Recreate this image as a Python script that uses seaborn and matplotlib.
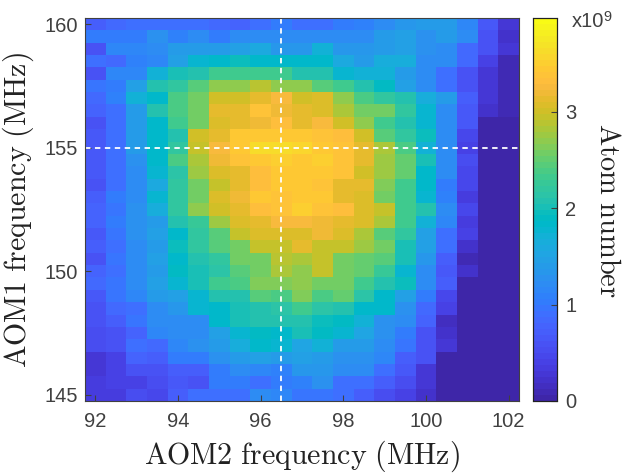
import numpy as np
import pandas as pd
import seaborn as sns
import matplotlib
matplotlib.use("Agg")
import matplotlib.pyplot as plt
from matplotlib.colors import ListedColormap

aom2 = [92 + 0.5 * i for i in range(21)]
aom1 = [160 - 0.5 * i for i in range(31)]

# atom number /1e9, rows go top (160 MHz) to bottom (145 MHz)
atoms = [
    [.70, .85, .92, .92, .92, .92, .85, .78, .92, 1.0, .92, .92, 1.05, 1.08, 1.18, 1.32, 1.38, 1.42, 1.12, .68, .25],
    [1.02, 1.0, 1.02, 1.28, 1.08, 1.22, 1.02, 1.22, 1.18, 1.18, 1.18, 1.18, 1.18, 1.22, 1.38, 1.48, 1.28, 1.42, 1.18, .62, .20],
    [.62, 1.12, 1.12, 1.22, 1.38, 1.38, 1.42, 1.48, 1.58, 1.32, 1.32, 1.68, 1.32, 1.32, 1.38, 1.48, 1.28, 1.18, .85, .58, .25],
    [.90, .82, 1.08, 1.12, 1.48, 1.78, 1.85, 1.95, 1.85, 1.85, 1.85, 1.85, 1.60, 1.38, 1.62, 1.62, 1.22, 1.18, .82, .42, .10],
    [.62, 1.12, 1.12, 1.70, 2.0, 2.10, 2.30, 2.30, 2.30, 2.35, 2.10, 2.10, 1.75, 1.70, 1.70, 1.42, 1.18, .92, .62, .30, .10],
    [.95, 1.05, 1.48, 2.10, 2.20, 2.45, 2.70, 2.70, 2.90, 2.70, 2.70, 2.45, 2.30, 2.05, 1.90, 1.48, 1.22, .92, .58, .25, .08],
    [.82, 1.10, 1.68, 1.80, 2.40, 2.60, 3.0, 3.0, 3.12, 3.25, 3.0, 3.05, 2.70, 2.40, 2.20, 2.05, 1.65, 1.38, .72, .25, .08],
    [.78, .88, 1.38, 2.05, 2.40, 2.60, 3.15, 3.15, 3.38, 3.20, 3.15, 3.05, 2.85, 2.55, 2.55, 2.20, 1.75, 1.18, .68, .20, .08],
    [.60, .88, 1.38, 1.85, 2.30, 2.55, 3.08, 3.15, 3.22, 3.30, 3.15, 3.25, 3.0, 2.70, 2.30, 2.10, 1.75, 1.18, .68, .05, .05],
    [.68, .88, 1.38, 1.80, 2.10, 3.0, 3.12, 3.45, 3.42, 3.42, 3.45, 3.35, 3.30, 3.0, 2.45, 2.20, 1.95, 1.22, .45, .05, .05],
    [.68, .88, 1.38, 1.80, 2.20, 2.95, 3.25, 3.45, 3.60, 3.60, 3.55, 3.45, 3.35, 3.15, 2.85, 2.40, 1.70, 1.18, .40, .05, .05],
    [.68, .88, 1.28, 1.85, 2.40, 2.80, 3.20, 3.38, 3.42, 3.48, 3.45, 3.50, 3.35, 3.15, 2.75, 2.50, 2.0, 1.22, .52, .05, .05],
    [.68, .92, 1.22, 1.75, 2.15, 2.75, 3.05, 3.15, 3.30, 3.45, 3.45, 3.42, 3.35, 3.0, 2.75, 2.50, 1.85, 1.22, .45, .05, .05],
    [.58, .88, 1.18, 1.60, 2.20, 2.60, 2.95, 3.12, 3.30, 3.45, 3.45, 3.35, 3.15, 3.12, 2.65, 2.30, 1.85, 1.02, .45, .05, .05],
    [.72, 1.02, 1.22, 1.75, 2.20, 2.60, 3.05, 3.20, 3.45, 3.38, 3.45, 3.45, 3.15, 3.05, 2.55, 2.35, 1.75, 1.08, .35, .05, .05],
    [.78, .98, 1.28, 1.65, 2.20, 2.70, 3.0, 3.15, 3.30, 3.38, 3.50, 3.38, 3.30, 3.08, 2.95, 2.35, 2.05, 1.18, .48, .05, .05],
    [.78, 1.02, 1.28, 1.40, 2.05, 2.25, 2.75, 3.05, 3.15, 3.25, 3.25, 3.20, 3.15, 3.05, 2.80, 2.35, 1.70, 1.12, .35, .05, .05],
    [.68, .98, 1.28, 1.48, 1.80, 2.20, 2.45, 2.95, 3.05, 3.10, 3.05, 3.20, 3.08, 2.80, 2.45, 2.20, 1.48, .88, .42, .05, .05],
    [.72, .88, 1.22, 1.38, 1.95, 2.20, 2.45, 2.55, 2.95, 2.95, 3.12, 2.95, 2.95, 2.75, 2.60, 2.0, 1.48, .88, .20, .05, .05],
    [.62, .98, 1.18, 1.48, 1.85, 2.10, 2.20, 2.60, 2.60, 2.90, 2.80, 2.95, 2.55, 2.50, 2.45, 2.0, 1.32, .72, .10, .05, .05],
    [.78, .92, 1.18, 1.38, 1.90, 2.0, 2.15, 2.45, 2.60, 2.85, 2.70, 2.95, 2.55, 2.50, 2.25, 1.75, 1.22, .68, .20, .05, .05],
    [.82, .98, 1.18, 1.48, 1.75, 2.0, 2.30, 2.40, 2.65, 2.65, 2.70, 2.60, 2.55, 2.35, 2.05, 1.95, 1.22, .72, .05, .05, .05],
    [.68, .98, 1.12, 1.38, 1.48, 1.75, 2.10, 2.10, 2.45, 2.40, 2.65, 2.40, 2.50, 2.15, 1.85, 1.48, 1.02, .48, .05, .05, .05],
    [.62, .82, .88, 1.22, 1.32, 1.75, 1.80, 2.0, 2.05, 2.15, 2.35, 2.15, 2.05, 1.80, 1.80, 1.28, .82, .38, .05, .05, .05],
    [.62, .72, .98, 1.18, 1.22, 1.22, 1.80, 2.0, 2.05, 2.05, 2.05, 1.95, 1.90, 1.70, 1.28, 1.22, .78, .15, .05, .05, .05],
    [.52, .62, .78, 1.12, 1.22, 1.18, 1.48, 1.75, 1.90, 1.80, 2.0, 1.90, 1.75, 1.52, 1.28, 1.02, .62, .20, .05, .05, .05],
    [.52, .62, .88, .82, 1.12, 1.28, 1.42, 1.65, 1.80, 1.75, 1.52, 1.68, 1.42, 1.38, 1.18, .98, .58, .25, .05, .05, .05],
    [.30, .42, .78, .72, 1.02, 1.02, 1.28, 1.42, 1.48, 1.42, 1.48, 1.38, 1.28, 1.28, 1.12, .72, .58, .05, .05, .05, .05],
    [.25, .42, .62, .62, .72, .72, 1.02, 1.18, 1.12, 1.08, 1.32, 1.32, 1.18, 1.22, .92, .68, .25, .03, .05, .05, .05],
    [.35, .38, .42, .52, .68, .62, 1.02, 1.02, .88, 1.02, 1.08, 1.28, .92, .92, .72, .52, .25, .03, .05, .05, .05],
    [.35, .35, .52, .48, .72, .92, .88, .88, 1.18, 1.12, .98, .98, .88, .72, .52, .42, .20, .03, .05, .05, .05],
]

# matlab parula
parula = ListedColormap([
    (.2422, .1504, .6603), (.2504, .1650, .7076), (.2578, .1818, .7511), (.2647, .1978, .7952),
    (.2706, .2147, .8364), (.2751, .2342, .8710), (.2783, .2559, .8991), (.2803, .2782, .9221),
    (.2813, .3006, .9414), (.2810, .3228, .9579), (.2795, .3447, .9717), (.2760, .3667, .9829),
    (.2699, .3892, .9906), (.2602, .4123, .9952), (.2440, .4358, .9988), (.2206, .4603, .9973),
    (.1963, .4847, .9892), (.1834, .5074, .9798), (.1786, .5289, .9682), (.1764, .5499, .9520),
    (.1687, .5703, .9359), (.1540, .5902, .9218), (.1460, .6091, .9079), (.1380, .6276, .8973),
    (.1248, .6459, .8883), (.1113, .6635, .8763), (.0952, .6798, .8598), (.0689, .6948, .8394),
    (.0297, .7082, .8163), (.0036, .7203, .7917), (.0067, .7312, .7660), (.0433, .7411, .7394),
    (.0964, .7500, .7120), (.1408, .7584, .6842), (.1717, .7670, .6554), (.1938, .7758, .6251),
    (.2161, .7843, .5923), (.2470, .7918, .5567), (.2906, .7973, .5188), (.3406, .8008, .4789),
    (.3909, .8029, .4354), (.4456, .8024, .3909), (.5044, .7993, .3480), (.5616, .7942, .3045),
    (.6174, .7876, .2612), (.6720, .7793, .2227), (.7242, .7698, .1910), (.7738, .7598, .1646),
    (.8203, .7498, .1535), (.8634, .7406, .1596), (.9035, .7330, .1774), (.9393, .7288, .2100),
    (.9728, .7289, .2394), (.9956, .7434, .2371), (.9970, .7659, .2199), (.9952, .7861, .1996),
    (.9892, .8135, .1885), (.9786, .8386, .1766), (.9676, .8639, .1643), (.9610, .8890, .1537),
    (.9597, .9135, .1423), (.9628, .9373, .1265), (.9691, .9606, .1064), (.9769, .9839, .0805),
])

plt.rcParams['font.family'] = ['Liberation Sans', 'DejaVu Sans']
plt.rcParams['mathtext.fontset'] = 'cm'
dark = '#404040'

W, H = 622, 476
fig = plt.figure(figsize=(W / 100, H / 100), dpi=100)
ax = fig.add_axes([85 / W, 1 - 401 / H, 434 / W, 383 / H])
cax = fig.add_axes([533 / W, 1 - 401 / H, 24 / W, 383 / H])

df = pd.DataFrame(atoms, index=aom1, columns=aom2)
sns.heatmap(df, ax=ax, cbar_ax=cax, cmap=parula, vmin=0, vmax=3.97, linewidths=0)

xt = [92, 94, 96, 98, 100, 102]
yt = [160, 155, 150, 145]
ax.set_xticks([aom2.index(v) + .5 for v in xt], [str(v) for v in xt], rotation=0)
ax.set_yticks([aom1.index(v) + .5 for v in yt], [str(v) for v in yt], rotation=0)
ax.tick_params(axis='both', direction='in', length=4, width=.8, color=dark, labelcolor=dark, labelsize=14.5)
ax.tick_params(axis='x', pad=8)
ax.tick_params(axis='y', pad=5)
for lab in ax.get_yticklabels():
    lab.set_va('center_baseline')
for side in ax.spines:
    ax.spines[side].set_visible(True)
    ax.spines[side].set_color(dark)
    ax.spines[side].set_linewidth(.8)

ax.axvline(aom2.index(96.5) + .5, color='white', ls=(0, (3, 2.5)), lw=1.3)
ax.axhline(aom1.index(155) + .5, color='white', ls=(0, (3, 2.5)), lw=1.3)

lab_x = r'$\mathrm{AOM2\ frequency\ (MHz)}$'
lab_y = r'$\mathrm{AOM1\ frequency\ (MHz)}$'
ax.set_xlabel('')
ax.set_ylabel('')
fig.text(302 / W, 1 - 456 / H, lab_x, fontsize=21.5, color='#222222', ha='center', va='center')
fig.text(18 / W, 1 - 210 / H, lab_y, fontsize=21.5, color='#222222', ha='center', va='center', rotation=90)

cax.set_yticks([0, 1, 2, 3])
cax.tick_params(direction='in', length=4, width=.8, color=dark, labelcolor=dark, labelsize=14.5, pad=6)
for lab in cax.get_yticklabels():
    lab.set_va('center_baseline')
for side in cax.spines:
    cax.spines[side].set_visible(True)
    cax.spines[side].set_color('#222222')
    cax.spines[side].set_linewidth(.8)

fig.text(572 / W, 1 - 27 / H, 'x10', fontsize=14.5, color=dark, ha='left', va='baseline')
fig.text(603 / W, 1 - 21 / H, '9', fontsize=10.5, color=dark, ha='left', va='baseline')
fig.text(607 / W, 1 - 210 / H, r'$\mathrm{Atom\ number}$', fontsize=20.5, color='#222222',
         rotation=270, ha='center', va='center')

plt.savefig('out.png', dpi=100)
